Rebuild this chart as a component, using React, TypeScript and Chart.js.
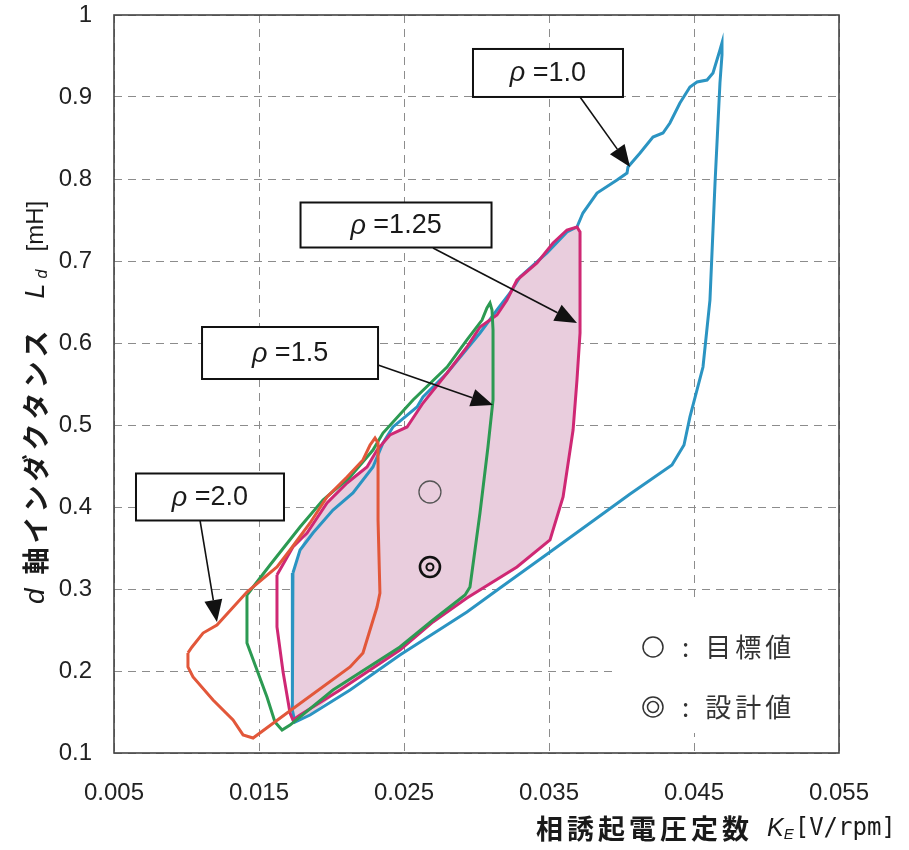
import { useEffect, useRef } from "react";
import { Chart, registerables } from "chart.js";

Chart.register(...registerables);

// ---- axis ticks ----
const xTickValues = [0.005, 0.015, 0.025, 0.035, 0.045, 0.055];
const yTickValues = [0.1, 0.2, 0.3, 0.4, 0.5, 0.6, 0.7, 0.8, 0.9, 1.0];

// ---- rho = 1.0 (blue) ----
const rho10KE = [0.01734, 0.01728, 0.01728, 0.01734, 0.01748, 0.01852, 0.02128, 0.02472, 0.02934, 0.03162, 0.03507, 0.03831, 0.04059, 0.04348, 0.04431, 0.04472, 0.04562, 0.0461, 0.04645, 0.04679, 0.04693, 0.04693, 0.04679, 0.04631, 0.0459, 0.04521, 0.04472, 0.04403, 0.04334, 0.04286, 0.04217, 0.04128, 0.04045, 0.04038, 0.03969, 0.03831, 0.03734, 0.03693, 0.03624, 0.03486, 0.033, 0.03231, 0.03141, 0.03024, 0.02797, 0.02631, 0.0259, 0.02424, 0.02355, 0.02286, 0.02148, 0.0201, 0.01872, 0.01783];
const rho10Ld = [0.3195, 0.2866, 0.2134, 0.1524, 0.1378, 0.1463, 0.1768, 0.2195, 0.272, 0.3012, 0.3451, 0.3866, 0.4159, 0.4512, 0.4756, 0.5098, 0.5707, 0.6524, 0.7951, 0.9171, 0.9512, 0.9659, 0.9573, 0.9293, 0.9207, 0.9183, 0.9122, 0.8927, 0.8683, 0.8561, 0.8512, 0.8317, 0.8146, 0.8073, 0.7988, 0.7829, 0.7585, 0.7415, 0.7354, 0.7098, 0.6805, 0.661, 0.6402, 0.6122, 0.5634, 0.5341, 0.522, 0.4976, 0.478, 0.4488, 0.4171, 0.3963, 0.3683, 0.3476];

// ---- rho = 1.25 (magenta) ----
const rho125KE = [0.01624, 0.01624, 0.01666, 0.01714, 0.01734, 0.01783, 0.02059, 0.02472, 0.027, 0.02934, 0.03279, 0.03507, 0.03597, 0.03666, 0.03693, 0.03714, 0.03714, 0.03693, 0.03624, 0.03528, 0.03417, 0.03279, 0.0321, 0.03141, 0.03024, 0.02934, 0.02797, 0.02631, 0.02521, 0.02403, 0.02314, 0.02245, 0.02107, 0.01969, 0.01831, 0.01734];
const rho125Ld = [0.3171, 0.2537, 0.1988, 0.1488, 0.1402, 0.1463, 0.1768, 0.2256, 0.2598, 0.289, 0.3268, 0.3598, 0.4122, 0.4939, 0.5549, 0.6122, 0.7354, 0.7415, 0.7378, 0.722, 0.6976, 0.6768, 0.6524, 0.6341, 0.6195, 0.5951, 0.5634, 0.5268, 0.4976, 0.4878, 0.4695, 0.4488, 0.4293, 0.4049, 0.3683, 0.3512];

// ---- rho = 1.5 (green) ----
const rho15KE = [0.01417, 0.01417, 0.01555, 0.0161, 0.01659, 0.01714, 0.0201, 0.02472, 0.027, 0.02921, 0.02955, 0.03024, 0.03079, 0.03114, 0.03114, 0.03107, 0.03093, 0.03072, 0.03038, 0.02934, 0.02797, 0.02562, 0.02355, 0.02286, 0.02128, 0.01941, 0.01783, 0.01576];
const rho15Ld = [0.2927, 0.2341, 0.1683, 0.1378, 0.128, 0.1341, 0.1768, 0.2293, 0.2622, 0.2927, 0.3024, 0.3927, 0.4732, 0.5305, 0.6159, 0.6402, 0.6488, 0.6427, 0.628, 0.6037, 0.5707, 0.5305, 0.4902, 0.4695, 0.4366, 0.4085, 0.3756, 0.3293];

// ---- rho = 2.0 (orange) ----
const rho20KE = [0.0101, 0.01038, 0.01114, 0.0121, 0.01417, 0.01624, 0.01714, 0.01852, 0.01969, 0.02107, 0.02217, 0.02266, 0.023, 0.02321, 0.02321, 0.02334, 0.02314, 0.02217, 0.02128, 0.01693, 0.01459, 0.0139, 0.01321, 0.01183, 0.01045, 0.0101];
const rho20Ld = [0.222, 0.2293, 0.2463, 0.2561, 0.2963, 0.3268, 0.3476, 0.3805, 0.4122, 0.4366, 0.4573, 0.4756, 0.4841, 0.478, 0.3841, 0.2951, 0.278, 0.222, 0.2049, 0.1488, 0.1183, 0.122, 0.1402, 0.1646, 0.1927, 0.2049];

// ---- shaded feasible region ----
const regionKE = [0.01734, 0.01728, 0.01728, 0.01734, 0.01748, 0.01852, 0.02059, 0.02472, 0.027, 0.02934, 0.03279, 0.03507, 0.03597, 0.03666, 0.03693, 0.03714, 0.03714, 0.03693, 0.03624, 0.03528, 0.03417, 0.03279, 0.0321, 0.03141, 0.03024, 0.02934, 0.02797, 0.02631, 0.02521, 0.02403, 0.02314, 0.02245, 0.02107, 0.01969, 0.01831, 0.01783];
const regionLd = [0.3195, 0.2866, 0.2134, 0.1524, 0.1378, 0.1463, 0.1768, 0.2256, 0.2598, 0.289, 0.3268, 0.3598, 0.4122, 0.4939, 0.5549, 0.6122, 0.7354, 0.7415, 0.7378, 0.722, 0.6976, 0.6768, 0.6524, 0.6341, 0.6195, 0.5951, 0.5634, 0.5268, 0.4976, 0.4878, 0.4695, 0.4488, 0.4293, 0.4049, 0.3683, 0.3476];

// ---- marked points ----
const targetKE = [0.02679];
const targetLd = [0.4183];
const designKE = [0.02679];
const designLd = [0.3268];

// ---- texts ----
const rhoValues = ["1.0", "1.25", "1.5", "2.0"];
const yTitleMain = "軸インダクタンス";
const xTitleMain = "相誘起電圧定数";
const legendTexts = ["目標値", "設計値"];

// ---- callout layout (data-space anchors) ----
const callouts = [
  { cx: 0.03493, cy: 0.9293, w: 150, h: 48, sx: 0.03714, sy: 0.9, tx: 0.04059, ty: 0.8146 },
  { cx: 0.02445, cy: 0.7439, w: 191, h: 45, sx: 0.027, sy: 0.7159, tx: 0.03693, ty: 0.6244 },
  { cx: 0.01714, cy: 0.5878, w: 176, h: 52, sx: 0.02321, sy: 0.5732, tx: 0.03114, ty: 0.5244 },
  { cx: 0.01162, cy: 0.4122, w: 148, h: 47, sx: 0.01093, sy: 0.3841, tx: 0.0121, ty: 0.2598 },
];

const loop = (xs: number[], ys: number[]) => {
  const pts = xs.map((x, i) => ({ x, y: ys[i] }));
  pts.push({ ...pts[0] });
  return pts;
};
const zip = (xs: number[], ys: number[]) => xs.map((x, i) => ({ x, y: ys[i] }));

const SANS = '"Liberation Sans", Arial, sans-serif';
const CJK = '"Noto Sans CJK JP", sans-serif';

type Run = { text: string; font: string; dy?: number; spacing?: number; gap?: number };

function drawRuns(ctx: CanvasRenderingContext2D, runs: Run[], x: number, y: number, measureOnly = false) {
  let cx = x;
  for (const r of runs) {
    cx += r.gap || 0;
    ctx.font = r.font;
    (ctx as any).letterSpacing = (r.spacing || 0) + "px";
    const w = ctx.measureText(r.text).width;
    if (!measureOnly) ctx.fillText(r.text, cx, y + (r.dy || 0));
    cx += w;
  }
  (ctx as any).letterSpacing = "0px";
  return cx - x;
}

const decorPlugin = {
  id: "decor",
  beforeDatasetsDraw(chart: any) {
    const { ctx, chartArea } = chart;
    ctx.save();
    ctx.fillStyle = "#ffffff";
    ctx.fillRect(chartArea.right - 222, chartArea.bottom - 150, 221, 130);
    ctx.restore();
  },
  afterDatasetsDraw(chart: any) {
    const { ctx, chartArea, scales } = chart;
    const xs = scales.x;
    const ys = scales.y;
    ctx.save();
    // frame
    ctx.strokeStyle = "#444";
    ctx.lineWidth = 1.6;
    ctx.strokeRect(chartArea.left, chartArea.top, chartArea.right - chartArea.left, chartArea.bottom - chartArea.top);

    // callouts
    callouts.forEach((c, i) => {
      const bx = xs.getPixelForValue(c.cx);
      const by = ys.getPixelForValue(c.cy);
      const sx = xs.getPixelForValue(c.sx);
      const sy = ys.getPixelForValue(c.sy);
      const tx = xs.getPixelForValue(c.tx);
      const ty = ys.getPixelForValue(c.ty);
      const ang = Math.atan2(ty - sy, tx - sx);
      const hl = 22;
      const hw = 9;
      const baseX = tx - hl * Math.cos(ang);
      const baseY = ty - hl * Math.sin(ang);
      ctx.strokeStyle = "#111";
      ctx.lineWidth = 1.6;
      ctx.beginPath();
      ctx.moveTo(sx, sy);
      ctx.lineTo(baseX, baseY);
      ctx.stroke();
      ctx.fillStyle = "#111";
      ctx.beginPath();
      ctx.moveTo(tx, ty);
      ctx.lineTo(baseX + hw * Math.sin(ang), baseY - hw * Math.cos(ang));
      ctx.lineTo(baseX - hw * Math.sin(ang), baseY + hw * Math.cos(ang));
      ctx.closePath();
      ctx.fill();
      ctx.fillStyle = "#fff";
      ctx.fillRect(bx - c.w / 2, by - c.h / 2, c.w, c.h);
      ctx.strokeStyle = "#111";
      ctx.lineWidth = 2;
      ctx.strokeRect(bx - c.w / 2, by - c.h / 2, c.w, c.h);
      const runs: Run[] = [
        { text: "ρ", font: `italic 27px ${SANS}` },
        { text: " =" + rhoValues[i], font: `27px ${SANS}` },
      ];
      ctx.textBaseline = "middle";
      ctx.textAlign = "left";
      const tw = drawRuns(ctx, runs, 0, 0, true);
      ctx.fillStyle = "#1a1a1a";
      drawRuns(ctx, runs, bx - tw / 2, by + 1);
    });

    // legend
    const lx = chartArea.right - 186;
    const ly1 = chartArea.bottom - 106;
    const ly2 = chartArea.bottom - 46;
    ctx.strokeStyle = "#333";
    ctx.lineWidth = 1.5;
    ctx.beginPath();
    ctx.arc(lx, ly1, 10, 0, Math.PI * 2);
    ctx.stroke();
    ctx.beginPath();
    ctx.arc(lx, ly2, 10, 0, Math.PI * 2);
    ctx.stroke();
    ctx.beginPath();
    ctx.arc(lx, ly2, 5.5, 0, Math.PI * 2);
    ctx.stroke();
    ctx.fillStyle = "#333";
    ctx.textBaseline = "middle";
    ctx.textAlign = "left";
    [ly1, ly2].forEach((ly, i) => {
      drawRuns(ctx, [
        { text: ":", font: `26px ${CJK}`, gap: 29 },
        { text: legendTexts[i], font: `26px ${CJK}`, spacing: 4, gap: 16 },
      ], lx, ly);
    });
    ctx.restore();
  },
  afterDraw(chart: any) {
    const { ctx } = chart;
    ctx.save();
    ctx.fillStyle = "#1a1a1a";
    ctx.textBaseline = "middle";
    ctx.textAlign = "left";
    // y title (rotated)
    ctx.save();
    ctx.translate(36, 604);
    ctx.rotate(-Math.PI / 2);
    drawRuns(ctx, [
      { text: "d", font: `italic 28px ${SANS}` },
      { text: yTitleMain, font: `bold 27px ${CJK}`, spacing: 4, gap: 14 },
      { text: "L", font: `italic 27px ${SANS}`, gap: 28 },
      { text: "d", font: `italic 16px ${SANS}`, dy: 7, gap: 5 },
      { text: "[mH]", font: `24px ${SANS}`, gap: 18 },
    ], 0, 0);
    ctx.restore();
    // x title
    drawRuns(ctx, [
      { text: xTitleMain, font: `bold 27px ${CJK}`, spacing: 4 },
      { text: "K", font: `italic 25px ${SANS}`, gap: 14 },
      { text: "E", font: `italic 15px ${SANS}`, dy: 6, gap: 0 },
      { text: "[V/rpm]", font: `24px "DejaVu Sans Mono", monospace`, gap: 1 },
    ], 536, 829);
    ctx.restore();
  },
};

export default function App() {
  const canvasRef = useRef<HTMLCanvasElement | null>(null);
  useEffect(() => {
    if (!canvasRef.current) return;
    Chart.defaults.font.family = SANS;
    const lineDs = (label: string, pts: any[], color: string, order: number) => ({
      label,
      data: pts,
      showLine: true,
      borderColor: color,
      borderWidth: 3,
      pointRadius: 0,
      fill: false,
      tension: 0,
      order,
    });
    const chart = new Chart(canvasRef.current, {
      type: "scatter",
      data: {
        datasets: [
          {
            label: "目標値",
            data: zip(targetKE, targetLd),
            showLine: false,
            pointRadius: 11,
            pointBorderWidth: 1.3,
            pointBorderColor: "#555",
            pointBackgroundColor: "rgba(0,0,0,0)",
            order: -3,
          },
          {
            label: "設計値",
            data: zip(designKE, designLd),
            showLine: false,
            pointRadius: 10,
            pointBorderWidth: 2.6,
            pointBorderColor: "#111",
            pointBackgroundColor: "rgba(0,0,0,0)",
            order: -3,
          },
          {
            label: "設計値 inner",
            data: zip(designKE, designLd),
            showLine: false,
            pointRadius: 3.5,
            pointBorderWidth: 2,
            pointBorderColor: "#111",
            pointBackgroundColor: "rgba(0,0,0,0)",
            order: -4,
          },
          lineDs("ρ=2.0", loop(rho20KE, rho20Ld), "#e2573a", 0),
          lineDs("ρ=1.5", loop(rho15KE, rho15Ld), "#2c9a52", 1),
          lineDs("ρ=1.25", loop(rho125KE, rho125Ld), "#cf2874", 2),
          lineDs("ρ=1.0", loop(rho10KE, rho10Ld), "#2b94c2", 3),
          {
            label: "region",
            data: loop(regionKE, regionLd),
            showLine: true,
            borderColor: "rgba(0,0,0,0)",
            borderWidth: 1,
            backgroundColor: "#e9cddd",
            pointRadius: 0,
            fill: "shape",
            tension: 0,
            order: 4,
          },
        ] as any,
      },
      options: {
        responsive: false,
        animation: false,
        events: [],
        layout: { padding: { top: 15, right: 70, left: 0, bottom: 0 } },
        plugins: { legend: { display: false }, tooltip: { enabled: false } },
        scales: {
          x: {
            type: "linear",
            min: 0.005,
            max: 0.055,
            afterBuildTicks: (s: any) => {
              s.ticks = xTickValues.map((v) => ({ value: v }));
            },
            afterFit: (s: any) => {
              s.height = 97;
              s.paddingLeft = 0;
              s.paddingRight = 0;
            },
            ticks: {
              callback: (v: any) => Number(v).toFixed(3),
              font: { size: 24 },
              color: "#222",
              padding: 26,
              maxRotation: 0,
              autoSkip: false,
            },
            grid: { color: "#8c8c8c", lineWidth: 1, drawTicks: false },
            border: { display: false, dash: [8, 6] },
          },
          y: {
            type: "linear",
            min: 0.1,
            max: 1.0,
            afterBuildTicks: (s: any) => {
              s.ticks = yTickValues.map((v) => ({ value: v }));
            },
            afterFit: (s: any) => {
              s.width = 114;
              s.paddingTop = 0;
              s.paddingBottom = 0;
            },
            ticks: {
              callback: (v: any) => (Number(v) === 1 ? "1" : Number(v).toFixed(1)),
              font: { size: 24 },
              color: "#222",
              padding: 22,
              autoSkip: false,
            },
            grid: { color: "#8c8c8c", lineWidth: 1, drawTicks: false },
            border: { display: false, dash: [8, 6] },
          },
        },
      } as any,
      plugins: [decorPlugin as any],
    });
    return () => chart.destroy();
  }, []);
  return (
    <div style={{ position: "absolute", left: 0, top: 0, width: 909, height: 850, background: "#fff" }}>
      <canvas ref={canvasRef} width={909} height={850} style={{ display: "block" }} />
    </div>
  );
}
